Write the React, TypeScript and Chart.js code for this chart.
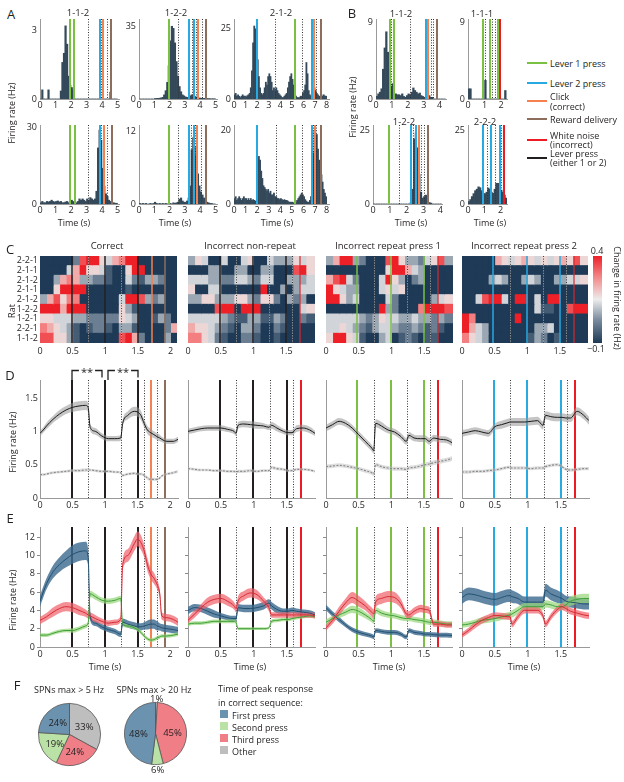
import React, { useEffect, useRef } from 'react';
import { Chart, registerables } from 'chart.js';

Chart.register(...registerables);
const FONT = "'Open Sans', 'DejaVu Sans', sans-serif";
Chart.defaults.font.family = FONT;
Chart.defaults.font.size = 9;
Chart.defaults.color = '#231f20';

// ---------------- colours ----------------
const GREEN = '#7ac143';
const BLUE = '#27aae1';
const ORANGE = '#f58151';
const BROWN = '#8d6e5c';
const RED = '#ed1c24';
const BLACK = '#231f20';
const HIST = '#34495a';
const DOT = '#333333';

// ---------------- Panel A / B histograms (0.1 s bins, Hz) ----------------
const BIN = 0.1;
const histA1 = [0,0.4,0,0,0,0.4,0,0,0,0, 0,0,0,0.35,1.6,2.0,3.2,2.4,1.0,0.6, 0.5,0.4,0,0,0,0,0,0,0,0, 0,0,0,0,0,0,0,0,0,0, 0,0,0,0,0,0.3,0,0,0,0];
const histA2 = [0,0,0,0,0,0,0,0,0,0, 0.2,0.3,0.3,0.4,0.5,0.8,2,4,8,16, 28,35,34,27,18,11,6,3.5,2,1.5, 1,0.8,0.6,1.5,2,1.5,1.2,1,0.7,0.5, 0.4,0.3,0.3,0.2,0.2,0.2,0.1,0.1,0.1,0.1];
const histA3 = [1.5,2,1,1.5,1,0.5,1,1.5,1,1, 0.8,1.2,1.5,2,4,10,20,26,25,20, 14,8,4,2,1.5,2,4,6,5,8, 9,8,6,3,4,3,4,3,2,1.5, 1,0.5,0.5,1,1.5,2,4,6,8,9, 7,5,2,1,0.5,0.5,0.5,1,1,2, 3,5,13,9,3,1.5,1,2,3,4, 3,2,1.5,1,1,1.5,1,1.5,1,1];
const histA4 = [0.5,1,0.5,0.5,1,0.8,1,1.5,1,0.8, 1,1.2,0.8,1,0.5,0.5,0.8,1,0.5,1, 1.5,1,0.5,0.5,1,2,1.5,2,1.5,1, 2,1.5,2.5,2,1.5,2,5,22,29,25, 14,7,4,3,1.5,1,0.5,0.5,0.3,0.3];
const histA5 = [0.1,0,0.1,0,0.1,0,0,0.1,0,0.1, 0.3,0.1,0,0.1,0,0.1,0,0.1,0,0.1, 0.1,0,0.2,0.1,0.2,0.3,0.8,1,0.5,0.3, 0.3,0.5,1,3,9,11,8,9.5,5,3, 2,1.5,1,0.5,0.3,0.2,0.1,0.1,0,0];
const histA6 = [1.5,2,1,1.5,2,1.5,1,1.5,2,1.5, 1.5,1,1.5,1,1.5,1,1.2,1,0.8,0.8, 6,13,12,9,7,5,4.5,4,3.5,4, 3,3.5,2.5,2.5,3,2,2,1.5,1.5,1.2, 1.5,1.2,1,1.2,1,1,0.8,0.5,0.5,0.5, 0.5,0.3,0.3,0.5,1,1.5,2,2.5,3,2.5, 2,1.2,0.8,0.5,0.5,1,2,5,14,20, 18,19,15,12,10,8,6,4,3,2];
const histB1 = [0.3,0.6,0.8,1.2,3.5,6.0,7.9,5.5,3.2,1.5, 1.8,0.6,0.6,0.5,0.5,0.4,0.6,0.3,0.2,0.4, 0.6,0.5,0.8,1.3,1.0,0.8,0.6,0.7,0.4,0.3, 0.2,0,0.3,0.4,0.2,0.2,0,0,0,0, 0,0,0,0];
const histB2 = [1.2,1.2,0,0,0,0,0,0,0,0, 2.2,0,0,0,0,0,0,0,0,0, 0,0,1.0,0];
const histB3 = [0,0,0,0,0,0,0,0,0,0, 0,0,0,0,0,0,0,0,0,0, 0,0,0.5,5,22,24,19,10,4,2, 2.5,3,2,0.5,0.3,0,0,0,0,0, 0];
const histB4 = [0.8,1.5,2.5,3.5,4.5,5,5.8,5.5,4.5,3.6, 3.5,4,5.4,5,4,3.6,5,7,7,6, 4.7,4,3,2];

// event times (s)
const evA1 = { green: [1.95, 2.22], blue: [3.85], click: [4.05], reward: [4.6], dotted: [3.1, 3.95, 4.35] };
const evA2 = { green: [1.93], blue: [3.25, 3.62], click: [3.84], reward: [4.41], dotted: [2.59, 3.47, 3.75, 4.12] };
const evA3 = { green: [5.25], blue: [1.95, 6.7], click: [6.9], reward: [7.5], dotted: [3.6, 5.95, 6.8, 7.1] };
const evA4 = { green: [1.95, 2.23], blue: [3.9], click: [4.1], reward: [4.65], dotted: [3.1, 4.0, 4.37] };
const evA5 = { green: [1.93], blue: [3.3, 3.57], click: [3.8], reward: [4.4], dotted: [2.6, 3.45, 3.68, 4.1] };
const evA6 = { green: [5.25], blue: [1.95, 6.75], click: [6.95], reward: [7.5], dotted: [3.7, 5.95, 6.85, 7.15] };
const evB1 = { green: [0.85, 1.12], blue: [3.12], click: [3.27], reward: [3.83], dotted: [1.0, 2.15, 3.48, 3.62] };
const evB2 = { green: [0.89, 1.33, 1.78], noise: [1.94], dotted: [1.07, 1.5, 1.68] };
const evB3 = { green: [0.95], blue: [2.26, 2.56], click: [2.72], reward: [3.24], dotted: [1.6, 2.42, 2.9, 3.05] };
const evB4 = { blue: [0.93, 1.44, 1.99], noise: [2.2], dotted: [1.17, 1.69, 2.08] };

// sequence-aligned events for C, D, E
const evCorrect = { press: [0.49, 1.0, 1.5], click: [1.71], reward: [1.92], dotted: [0.74, 1.25, 1.61, 1.81] };
const evNonRep = { press: [0.49, 0.99, 1.5], noise: [1.71], dotted: [0.74, 1.25, 1.6] };
const evRep1 = { green: [0.48, 0.99, 1.5], noise: [1.71], dotted: [0.74, 1.25, 1.6] };
const evRep2 = { blue: [0.48, 0.99, 1.5], noise: [1.71], dotted: [0.74, 1.25, 1.6] };
const evHeatCorrect = { press: [0.49, 1.0, 1.5], click: [1.71], reward: [1.92], dotted: [0.74, 1.25] };

// ---------------- Panel C heatmaps (levels 0..9 → -0.1..0.4 Hz) ----------------
const RATS = ['2-2-1', '2-1-1', '2-1-2', '2-1-1', '2-1-2', '1-2-2', '1-2-1', '2-2-1', '1-1-2'];
const HBIN = 0.1;
const heatCorrect = ['000002899546799000000','000046955410059900000','003676332210042133200','005999900000010000000','368577000000499832300','999699900000531000000','554443322222543001320','765431012210331000026','885531000000896200030'];
const heatNonRep = ['3540040045004333545','0003300330033000895','4443322443244003334','5004400000090030344','3355333553255203230','0000899099900000045','4444432113311320021','6554321033200210000','7754210022100100000'];
const heatRep1 = ['3699320008953324583','0000000005996430000','6894200049530230000','9543300045450000000','9953400004200000345','0000000093200079998','4444432354433433232','4454321344322321210','5995410034012101100'];
const heatRep2 = ['0000065456545456585','0000000000000000000','0000343003430033445','0000000000000000000','0048994099040990000','0000000000041100899','9700000090000000000','9643000000033400000','7543000000132010000'];
const HEAT_MIN = -0.1;
const HEAT_MAX = 0.4;
const HEAT_STOPS: [number, number[]][] = [[-0.1, [30, 58, 86]], [0.03, [120, 138, 156]], [0.15, [236, 236, 236]], [0.28, [243, 135, 135]], [0.4, [237, 32, 40]]];

// ---------------- Panel D / E time courses ----------------
const tCor = [0,0.05,0.1,0.2,0.3,0.4,0.5,0.6,0.7,0.74,0.77,0.85,0.95,1.05,1.15,1.24,1.27,1.35,1.45,1.5,1.55,1.6,1.65,1.7,1.75,1.8,1.84,1.87,1.95,2.05,2.12];
const tInc = [0,0.1,0.2,0.3,0.4,0.5,0.6,0.7,0.73,0.76,0.85,0.95,1.05,1.15,1.23,1.27,1.35,1.45,1.52,1.58,1.65,1.75,1.85,1.93];

const dCorBlack = [0.97,1.02,1.08,1.18,1.26,1.32,1.36,1.38,1.39,1.36,1.06,1.0,0.93,0.89,0.89,0.9,1.12,1.24,1.3,1.29,1.24,1.12,1.02,0.98,0.95,0.92,0.9,0.88,0.85,0.85,0.88];
const dCorBlackSem = [0.04,0.04,0.05,0.05,0.06,0.06,0.07,0.07,0.07,0.07,0.05,0.05,0.04,0.04,0.04,0.04,0.05,0.06,0.07,0.07,0.07,0.06,0.06,0.06,0.05,0.05,0.05,0.04,0.04,0.04,0.04];
const dCorGray = [0.35,0.35,0.36,0.38,0.39,0.4,0.41,0.41,0.42,0.42,0.42,0.41,0.4,0.4,0.39,0.38,0.34,0.36,0.37,0.36,0.36,0.34,0.3,0.28,0.28,0.28,0.3,0.33,0.36,0.38,0.4];
const dCorGraySem = [0.02,0.02,0.02,0.02,0.02,0.02,0.025,0.025,0.025,0.025,0.02,0.02,0.02,0.02,0.02,0.02,0.02,0.02,0.02,0.02,0.02,0.02,0.025,0.025,0.025,0.02,0.02,0.02,0.02,0.02,0.02];
const dNonBlack = [1.0,1.02,1.04,1.05,1.05,1.05,1.03,1.0,0.97,1.09,1.11,1.1,1.09,1.08,1.06,1.09,1.05,1.0,0.98,0.98,1.04,1.05,1.02,0.97];
const dNonBlackSem = [0.04,0.04,0.04,0.04,0.04,0.04,0.04,0.04,0.04,0.05,0.05,0.05,0.05,0.04,0.04,0.05,0.05,0.04,0.04,0.04,0.05,0.05,0.05,0.04];
const dNonGray = [0.44,0.43,0.42,0.42,0.41,0.41,0.4,0.4,0.39,0.4,0.4,0.41,0.4,0.41,0.41,0.46,0.44,0.43,0.41,0.41,0.43,0.43,0.42,0.4];
const dNonGraySem = [0.02,0.02,0.02,0.02,0.02,0.02,0.02,0.02,0.02,0.025,0.025,0.025,0.02,0.02,0.02,0.025,0.025,0.02,0.02,0.02,0.02,0.02,0.02,0.02];
const dRep1Black = [1.05,1.1,1.15,1.12,1.05,0.95,0.85,0.75,0.71,1.12,1.08,1.02,0.99,0.92,0.85,0.94,0.9,0.89,0.89,0.85,0.9,0.88,0.87,0.83];
const dRep1BlackSem = [0.05,0.05,0.05,0.05,0.05,0.05,0.05,0.05,0.05,0.06,0.06,0.05,0.05,0.05,0.05,0.05,0.05,0.05,0.05,0.05,0.05,0.05,0.05,0.05];
const dRep1Gray = [0.47,0.48,0.49,0.48,0.46,0.44,0.41,0.38,0.36,0.5,0.47,0.45,0.44,0.44,0.43,0.45,0.46,0.48,0.5,0.51,0.53,0.55,0.57,0.59];
const dRep1GraySem = [0.03,0.03,0.03,0.03,0.03,0.03,0.03,0.03,0.03,0.03,0.03,0.03,0.03,0.03,0.03,0.03,0.03,0.035,0.035,0.035,0.035,0.035,0.035,0.035];
const dRep2Black = [0.97,0.99,1.01,0.99,0.97,1.07,1.1,1.13,1.14,1.14,1.14,1.14,1.15,1.16,1.09,1.24,1.22,1.21,1.21,1.2,1.2,1.3,1.24,1.16];
const dRep2BlackSem = [0.05,0.05,0.05,0.05,0.05,0.05,0.06,0.06,0.06,0.06,0.06,0.06,0.06,0.06,0.06,0.06,0.06,0.06,0.06,0.06,0.06,0.06,0.06,0.06];
const dRep2Gray = [0.39,0.39,0.4,0.4,0.41,0.42,0.44,0.46,0.46,0.45,0.45,0.45,0.44,0.45,0.45,0.47,0.49,0.5,0.47,0.43,0.42,0.43,0.44,0.44];
const dRep2GraySem = [0.025,0.025,0.025,0.025,0.025,0.025,0.025,0.025,0.025,0.025,0.025,0.025,0.025,0.025,0.025,0.025,0.025,0.025,0.025,0.025,0.025,0.025,0.025,0.025];

const eCorBlue = [5.0,6.0,6.9,8.2,9.0,9.6,10.1,10.4,10.5,9.8,3.3,2.6,2.2,1.9,1.7,1.4,2.7,2.5,2.3,2.2,2.2,2.3,2.4,2.5,2.5,2.3,2.2,2.1,2.0,1.9,1.8];
const eCorBlueSem = [0.6,0.6,0.6,0.7,0.8,0.9,1.0,1.0,1.0,0.9,0.4,0.3,0.3,0.3,0.3,0.3,0.4,0.4,0.4,0.4,0.4,0.4,0.5,0.5,0.5,0.5,0.4,0.4,0.4,0.4,0.4];
const eCorRed = [2.9,3.1,3.3,3.8,4.2,4.4,4.3,4.0,3.7,3.5,3.4,3.1,2.8,2.6,2.7,3.0,9.0,10.0,11.3,11.8,11.4,10.5,9.0,8.0,7.5,6.8,5.8,3.4,3.2,3.0,2.7];
const eCorRedSem = [0.4,0.4,0.4,0.5,0.5,0.5,0.5,0.5,0.4,0.4,0.4,0.4,0.3,0.3,0.3,0.3,0.6,0.7,0.8,0.8,0.8,0.7,0.7,0.6,0.6,0.5,0.5,0.4,0.4,0.4,0.4];
const eCorGreen = [1.3,1.3,1.3,1.5,1.7,1.8,1.8,2.0,2.3,2.6,5.8,5.5,5.1,5.0,5.1,5.3,2.5,2.3,2.1,1.9,1.6,1.2,0.9,0.75,0.8,1.0,1.1,1.2,1.2,1.3,1.4];
const eCorGreenSem = [0.2,0.2,0.2,0.2,0.2,0.2,0.25,0.25,0.25,0.25,0.35,0.35,0.3,0.3,0.3,0.3,0.2,0.2,0.2,0.2,0.2,0.2,0.2,0.2,0.2,0.2,0.2,0.2,0.2,0.2,0.2];
const eNonRed = [2.9,3.6,4.3,4.9,5.2,5.3,5.0,4.5,4.2,5.0,5.6,5.9,5.7,5.0,4.3,3.5,3.5,3.5,3.5,3.5,3.5,3.5,3.5,3.4];
const eNonRedSem = [0.3,0.4,0.4,0.5,0.5,0.5,0.5,0.4,0.4,0.5,0.5,0.5,0.5,0.4,0.4,0.3,0.3,0.3,0.3,0.3,0.3,0.3,0.3,0.3];
const eNonBlue = [4.0,4.3,4.2,3.9,3.6,3.4,3.2,3.1,3.1,4.3,4.2,4.2,4.3,4.5,4.8,4.5,4.1,3.9,3.9,4.0,3.9,3.8,3.7,3.5];
const eNonBlueSem = [0.4,0.4,0.4,0.4,0.4,0.3,0.3,0.3,0.3,0.4,0.4,0.4,0.4,0.4,0.4,0.4,0.4,0.3,0.3,0.3,0.3,0.3,0.3,0.3];
const eNonGreen = [2.5,2.6,2.6,2.7,2.8,2.8,2.8,2.8,2.7,2.0,2.0,2.0,2.0,2.0,2.1,2.8,2.9,3.0,3.0,3.1,3.2,3.3,3.4,3.3];
const eNonGreenSem = [0.2,0.2,0.2,0.2,0.2,0.2,0.2,0.2,0.2,0.15,0.15,0.15,0.15,0.15,0.15,0.2,0.2,0.2,0.2,0.2,0.2,0.2,0.2,0.2];
const eRep1Red = [2.1,2.9,3.9,4.8,5.4,5.0,4.5,3.8,3.6,4.9,5.3,5.5,5.4,4.7,3.6,3.5,3.9,4.2,4.1,4.0,2.5,2.5,2.4,2.4];
const eRep1RedSem = [0.3,0.4,0.5,0.5,0.6,0.6,0.5,0.5,0.5,0.6,0.6,0.6,0.6,0.5,0.4,0.4,0.4,0.4,0.4,0.4,0.3,0.3,0.3,0.3];
const eRep1Green = [2.7,3.1,3.5,3.8,4.1,3.9,3.5,3.0,2.8,4.0,3.7,3.5,3.4,3.2,3.1,3.1,3.0,2.9,2.8,2.7,2.7,2.6,2.5,2.5];
const eRep1GreenSem = [0.3,0.3,0.35,0.35,0.4,0.4,0.35,0.3,0.3,0.35,0.35,0.3,0.3,0.3,0.3,0.3,0.3,0.3,0.3,0.3,0.3,0.3,0.3,0.3];
const eRep1Blue = [4.3,3.6,3.0,2.4,1.9,1.6,1.4,1.2,1.1,1.8,1.7,1.6,1.6,1.4,1.1,1.8,1.6,1.5,1.4,1.4,1.35,1.3,1.3,1.25];
const eRep1BlueSem = [0.3,0.3,0.3,0.25,0.25,0.25,0.25,0.25,0.25,0.25,0.25,0.25,0.25,0.25,0.25,0.25,0.25,0.25,0.25,0.25,0.25,0.25,0.25,0.25];
const eRep2Blue = [5.4,5.8,5.7,5.5,5.3,5.2,5.4,5.6,5.6,5.5,5.3,4.9,4.9,4.9,4.9,6.2,5.8,5.5,5.3,5.0,4.9,4.8,4.7,4.7];
const eRep2BlueSem = [0.7,0.7,0.7,0.7,0.7,0.7,0.7,0.7,0.7,0.7,0.6,0.6,0.6,0.6,0.6,0.7,0.7,0.7,0.6,0.6,0.6,0.6,0.6,0.6];
const eRep2Green = [2.4,2.5,2.7,2.9,3.0,3.1,3.3,3.45,3.5,3.6,4.0,4.4,4.4,4.4,4.4,4.7,4.6,4.4,4.4,4.6,5.0,5.2,5.3,5.3];
const eRep2GreenSem = [0.3,0.3,0.3,0.35,0.35,0.35,0.35,0.35,0.35,0.4,0.4,0.4,0.4,0.4,0.4,0.4,0.4,0.4,0.4,0.45,0.5,0.5,0.5,0.5];
const eRep2Red = [1.3,1.8,2.4,2.9,3.2,3.45,3.4,3.3,3.3,2.5,3.3,4.0,4.0,4.0,3.4,2.5,3.3,4.1,4.4,4.2,3.9,3.7,3.5,3.4];
const eRep2RedSem = [0.3,0.3,0.35,0.35,0.35,0.35,0.35,0.35,0.35,0.35,0.35,0.35,0.35,0.35,0.35,0.35,0.35,0.35,0.35,0.35,0.35,0.35,0.35,0.35];

// ---------------- Panel F ----------------
const PIE_CATS = ['First press', 'Second press', 'Third press', 'Other'];
const PIE_COLORS = ['#6b93b0', '#bbe2a6', '#ef7e87', '#bebebe'];
const pie5Hz = [24, 19, 24, 33];
const pie20Hz = [48, 6, 45, 1];

// ---------------- helpers ----------------
type Line = { x: number; c: string; w: number; dash?: number[]; alt?: boolean };

function eventLines(ev: any, w = 2, heat = false): Line[] {
  const out: Line[] = [];
  (ev.dotted || []).forEach((x: number) => out.push({ x, c: heat ? 'rgba(20,20,20,0.8)' : DOT, w: 1, dash: [1, 1.6], alt: heat }));
  const add = (arr: number[] | undefined, c: string) => (arr || []).forEach((x) => out.push({ x, c, w }));
  add(ev.press, BLACK);
  add(ev.green, GREEN);
  add(ev.blue, BLUE);
  add(ev.click, ORANGE);
  add(ev.reward, BROWN);
  add(ev.noise, heat ? 'rgba(215,40,45,0.8)' : RED);
  return out;
}

function vlines(lines: Line[], front: boolean) {
  const draw = (chart: any) => {
    const { ctx, chartArea: a } = chart;
    const xs = chart.scales.x;
    ctx.save();
    for (const l of lines) {
      let px = xs.getPixelForValue(l.x);
      px = l.w % 2 === 1 ? Math.round(px - 0.5) + 0.5 : Math.round(px);
      if (l.alt) {
        ctx.setLineDash([]);
        ctx.strokeStyle = 'rgba(235,235,235,0.45)';
        ctx.lineWidth = 1;
        ctx.beginPath(); ctx.moveTo(px, a.top); ctx.lineTo(px, a.bottom); ctx.stroke();
      }
      ctx.setLineDash(l.dash || []);
      ctx.strokeStyle = l.c;
      ctx.lineWidth = l.w;
      ctx.beginPath(); ctx.moveTo(px, a.top); ctx.lineTo(px, a.bottom); ctx.stroke();
    }
    ctx.restore();
  };
  return front ? { id: 'vlinesFront', afterDatasetsDraw: draw } : { id: 'vlinesBack', beforeDatasetsDraw: draw };
}

function brackets(pairs: number[][], label: string) {
  return {
    id: 'brackets',
    afterDraw(chart: any) {
      const { ctx, chartArea: a } = chart;
      const xs = chart.scales.x;
      ctx.save();
      ctx.strokeStyle = BLACK; ctx.fillStyle = BLACK; ctx.lineWidth = 1.3;
      ctx.font = `11px ${FONT}`; ctx.textAlign = 'center'; ctx.textBaseline = 'middle';
      const y = a.top - 9.5;
      const hw = ctx.measureText(label).width / 2 + 2;
      for (const [x0, x1] of pairs) {
        const p0 = Math.round(xs.getPixelForValue(x0)), p1 = Math.round(xs.getPixelForValue(x1));
        const m = (p0 + p1) / 2;
        ctx.beginPath();
        ctx.moveTo(p0, a.top); ctx.lineTo(p0, y); ctx.lineTo(m - hw, y);
        ctx.moveTo(m + hw, y); ctx.lineTo(p1, y); ctx.lineTo(p1, y + 7);
        ctx.stroke();
        ctx.fillText(label, m, y + 2.5);
      }
      ctx.restore();
    },
  };
}

const pieLabels = {
  id: 'pieLabels',
  afterDatasetsDraw(chart: any) {
    const { ctx } = chart;
    const meta = chart.getDatasetMeta(0);
    const vals = chart.data.datasets[0].data;
    ctx.save();
    ctx.fillStyle = BLACK; ctx.font = `9.5px ${FONT}`; ctx.textAlign = 'center'; ctx.textBaseline = 'middle';
    meta.data.forEach((arc: any, i: number) => {
      const p = arc.getProps(['x', 'y', 'startAngle', 'endAngle', 'outerRadius'], true);
      const a = (p.startAngle + p.endAngle) / 2;
      const r = vals[i] < 10 ? p.outerRadius + 4.5 : p.outerRadius * 0.55;
      ctx.fillText(`${vals[i]}%`, p.x + Math.cos(a) * r, p.y + Math.sin(a) * r + 1.5);
    });
    ctx.restore();
  },
};

function heatColor(d: number) {
  const v = HEAT_MIN + (d / 9) * (HEAT_MAX - HEAT_MIN);
  for (let i = 1; i < HEAT_STOPS.length; i++) {
    const [v1, c1] = HEAT_STOPS[i];
    const [v0, c0] = HEAT_STOPS[i - 1];
    if (v <= v1 + 1e-9) {
      const f = (v - v0) / (v1 - v0);
      return `rgb(${c0.map((c, k) => Math.round(c + (c1[k] - c) * f)).join(',')})`;
    }
  }
  return 'rgb(237,32,40)';
}

type G = { x: number; y: number; w: number; h: number; yw: number; xh: number; tp: number; rp: number; noY?: boolean };
function geo(pl: number, pt: number, pw: number, ph: number, yw: number, xh: number, tp = 10, rp = 10, noY = false): G {
  const x = Math.round(pl - yw);
  const y = Math.round(pt - tp);
  return { x, y, w: Math.round(pl + pw) + rp - x, h: Math.round(pt + ph) + xh - y, yw: Math.round(pl) - x, xh, tp: Math.round(pt) - y, rp, noY };
}

function axis(o: any) {
  return {
    type: 'linear', display: true, min: o.min, max: o.max, offset: false,
    afterBuildTicks: (s: any) => { s.ticks = o.ticks.map((v: number) => ({ value: v })); },
    afterFit: (s: any) => { if (o.h) s.height = o.size; else s.width = o.size; },
    ticks: { display: !!o.labels, padding: o.pad ?? 2, autoSkip: false, maxRotation: 0, minRotation: 0, color: '#231f20', font: { family: FONT, size: 9 }, callback: (v: any) => String(v) },
    grid: { display: !!o.marks, drawOnChartArea: false, drawTicks: !!o.marks, tickLength: 3, color: '#8a8a8a', lineWidth: 1, offset: false },
    border: { display: o.border !== false, color: '#9a9a9a', width: 1 },
  };
}

function base(g: G, scales: any, extra: any = {}) {
  return {
    animation: false, responsive: false, maintainAspectRatio: false, devicePixelRatio: 1, events: [],
    layout: { padding: { top: g.tp, right: g.rp, bottom: 0, left: g.noY ? g.yw : 0 } },
    plugins: { legend: { display: false }, tooltip: { enabled: false } },
    scales,
    ...extra,
  };
}

function histChart(g: G, hist: number[], xmax: number, xticks: number[], ymax: number, yticks: number[], ev: any) {
  return () => ({
    type: 'bar',
    data: { datasets: [{ data: hist.map((v, i) => ({ x: (i + 0.5) * BIN, y: v })), backgroundColor: HIST, borderWidth: 0, barPercentage: 1, categoryPercentage: 1 }] },
    options: base(g, {
      x: axis({ min: 0, max: xmax, ticks: xticks, h: true, size: g.xh, labels: true, pad: 1 }),
      y: axis({ min: 0, max: ymax, ticks: yticks, h: false, size: g.yw, labels: true, pad: 3 }),
    }),
    plugins: [vlines(eventLines(ev, 2), true)],
  });
}

function heatChart(g: G, rows: string[], xmax: number, xticks: number[], ev: any, showY: boolean) {
  return () => {
    const levels = rows.map((r) => r.split('').map(Number));
    const nb = levels[0].length;
    const datasets = [];
    for (let j = 0; j < nb; j++) {
      const t0 = j * HBIN;
      const t1 = j === nb - 1 ? xmax : (j + 1) * HBIN;
      const cols = levels.map((r) => heatColor(r[j]));
      datasets.push({ data: levels.map(() => [t0, t1]), backgroundColor: cols, borderWidth: 0, barPercentage: 1, categoryPercentage: 1, grouped: false, inflateAmount: 0.5 });
    }
    return {
      type: 'bar',
      data: { labels: RATS, datasets },
      options: base(g, {
        x: axis({ min: 0, max: xmax, ticks: xticks, h: true, size: g.xh, labels: true, pad: 3, border: false }),
        y: showY
          ? { type: 'category', offset: true, afterFit: (s: any) => { s.width = g.yw; }, ticks: { padding: 2, autoSkip: false, font: { family: FONT, size: 9 }, color: '#231f20' }, grid: { display: false, drawTicks: false, tickLength: 0 }, border: { display: false } }
          : { type: 'category', display: false, offset: true },
      }, { indexAxis: 'y' }),
      plugins: [vlines(eventLines(ev, 1.5, true), true)],
    };
  };
}

function band(t: number[], mean: number[], sem: number[], line: string, fill: string, order: number, dash: number[] = [], lw = 1) {
  const up = mean.map((m, i) => ({ x: t[i], y: m + sem[i] }));
  const lo = mean.map((m, i) => ({ x: t[i], y: m - sem[i] }));
  const mid = mean.map((m, i) => ({ x: t[i], y: m }));
  const common = { pointRadius: 0, cubicInterpolationMode: 'monotone' };
  return [
    { ...common, data: up, borderColor: 'rgba(0,0,0,0)', borderWidth: 0, fill: false, order },
    { ...common, data: lo, borderColor: 'rgba(0,0,0,0)', borderWidth: 0, fill: '-1', backgroundColor: fill, order },
    { ...common, data: mid, borderColor: line, borderWidth: lw, borderDash: dash, fill: false, order: 0 },
  ];
}

function lineChart(g: G, datasets: any[], xmax: number, xticks: number[], ymax: number, yticks: number[], yLabels: boolean, yMarks: boolean, ev: any, extraPlugins: any[] = []) {
  return () => ({
    type: 'line',
    data: { datasets },
    options: base(g, {
      x: axis({ min: 0, max: xmax, ticks: xticks, h: true, size: g.xh, labels: true, pad: 2 }),
      y: axis({ min: 0, max: ymax, ticks: yticks, h: false, size: g.yw, labels: yLabels, marks: yMarks, pad: 2 }),
    }),
    plugins: [vlines(eventLines(ev, 2), false), ...extraPlugins],
  });
}

function pieChart(values: number[]) {
  return () => ({
    type: 'pie',
    data: {
      labels: [...PIE_CATS].reverse(),
      datasets: [{ data: [...values].reverse(), backgroundColor: [...PIE_COLORS].reverse(), borderColor: '#555', borderWidth: 0.8 }],
    },
    options: { animation: false, responsive: false, maintainAspectRatio: false, devicePixelRatio: 1, events: [], layout: { padding: 14 }, plugins: { legend: { display: false }, tooltip: { enabled: false } } },
    plugins: [pieLabels],
  });
}

// ---------------- chart list ----------------
const XT5 = [0, 1, 2, 3, 4, 5];
const XT8 = [0, 1, 2, 3, 4, 5, 6, 7, 8];
const XT4 = [0, 1, 2, 3, 4];
const XT2 = [0, 1, 2];
const XTS1 = [0, 0.5, 1, 1.5, 2];
const XTS2 = [0, 0.5, 1, 1.5];
const YT_D = [0, 0.5, 1, 1.5];
const YT_E = [0, 2, 4, 6, 8, 10, 12];

const gA1 = geo(40, 19, 78.5, 80, 16, 14);
const gA2 = geo(139, 19, 77.5, 80, 16, 14);
const gA3 = geo(234, 19, 95, 80, 16, 14);
const gA4 = geo(40, 125, 78.5, 79, 16, 14);
const gA5 = geo(139, 125, 77.5, 79, 16, 14);
const gA6 = geo(234, 125, 95, 79, 16, 14);
const gB1 = geo(375.7, 19, 70.4, 80, 16, 14);
const gB2 = geo(468, 19, 38.8, 80, 16, 14);
const gB3 = geo(373.3, 125, 68.5, 79, 16, 14);
const gB4 = geo(467.7, 125, 38.9, 79, 16, 14);
const gC1 = geo(40, 255.5, 137, 87.5, 36, 14);
const gC2 = geo(188, 255.5, 127, 87.5, 8, 14, 10, 10, true);
const gC3 = geo(326, 255.5, 127, 87.5, 8, 14, 10, 10, true);
const gC4 = geo(462, 255.5, 126, 87.5, 8, 14, 10, 10, true);
const gD1 = geo(40, 380, 138, 118, 20, 14, 16);
const gD2 = geo(188, 380, 126.5, 118, 8, 14);
const gD3 = geo(325.7, 380, 126.5, 118, 8, 14);
const gD4 = geo(462, 380, 126.5, 118, 8, 14);
const gE1 = geo(40, 526.7, 138, 120, 22, 14);
const gE2 = geo(188, 526.7, 126.5, 120, 8, 14);
const gE3 = geo(325.7, 526.7, 126.5, 120, 8, 14);
const gE4 = geo(462, 526.7, 126.5, 120, 8, 14);
const gF1: G = { x: 24, y: 689, w: 91, h: 91, yw: 0, xh: 0, tp: 0, rp: 0 };
const gF2: G = { x: 110, y: 688, w: 91, h: 91, yw: 0, xh: 0, tp: 0, rp: 0 };

const GRAYBAND = 'rgba(150,150,150,0.55)';
const LGRAYBAND = 'rgba(190,190,190,0.5)';
const BLUEBAND = 'rgba(62,108,145,0.82)';
const GREENBAND = 'rgba(150,214,120,0.7)';
const REDBAND = 'rgba(240,95,105,0.7)';
const BLUELINE = '#22506f';
const GREENLINE = '#3f9e3a';
const REDLINE = '#d62a34';

const dSets = (t: number[], b: number[], bs: number[], gr: number[], gs: number[]) => [
  ...band(t, b, bs, '#1a1a1a', GRAYBAND, 1),
  ...band(t, gr, gs, '#8c8c8c', LGRAYBAND, 2, [2, 1.5], 1.2),
];
const eSets = (t: number[], bl: number[], bls: number[], gn: number[], gns: number[], rd: number[], rds: number[]) => [
  ...band(t, rd, rds, REDLINE, REDBAND, 1),
  ...band(t, gn, gns, GREENLINE, GREENBAND, 2),
  ...band(t, bl, bls, BLUELINE, BLUEBAND, 3),
];

const CHARTS: { key: string; g: G; make: () => any }[] = [
  { key: 'A1', g: gA1, make: histChart(gA1, histA1, 5.1, XT5, 3.5, [0, 3], evA1) },
  { key: 'A2', g: gA2, make: histChart(gA2, histA2, 5.1, XT5, 38.5, [0, 35], evA2) },
  { key: 'A3', g: gA3, make: histChart(gA3, histA3, 8.2, XT8, 28.5, [0, 25], evA3) },
  { key: 'A4', g: gA4, make: histChart(gA4, histA4, 5.1, XT5, 31, [0, 30], evA4) },
  { key: 'A5', g: gA5, make: histChart(gA5, histA5, 5.1, XT5, 13.1, [0, 12], evA5) },
  { key: 'A6', g: gA6, make: histChart(gA6, histA6, 8.2, XT8, 21.6, [0, 20], evA6) },
  { key: 'B1', g: gB1, make: histChart(gB1, histB1, 4.4, XT4, 9.4, [0, 9], evB1) },
  { key: 'B2', g: gB2, make: histChart(gB2, histB2, 2.35, XT2, 9.4, [0, 9], evB2) },
  { key: 'B3', g: gB3, make: histChart(gB3, histB3, 4.1, XT4, 26.7, [0, 25], evB3) },
  { key: 'B4', g: gB4, make: histChart(gB4, histB4, 2.4, XT2, 26.7, [0, 25], evB4) },
  { key: 'C1', g: gC1, make: heatChart(gC1, heatCorrect, 2.1, XTS1, evHeatCorrect, true) },
  { key: 'C2', g: gC2, make: heatChart(gC2, heatNonRep, 1.94, XTS2, evNonRep, false) },
  { key: 'C3', g: gC3, make: heatChart(gC3, heatRep1, 1.94, XTS2, evRep1, false) },
  { key: 'C4', g: gC4, make: heatChart(gC4, heatRep2, 1.93, XTS2, evRep2, false) },
  { key: 'D1', g: gD1, make: lineChart(gD1, dSets(tCor, dCorBlack, dCorBlackSem, dCorGray, dCorGraySem), 2.12, XTS1, 1.77, YT_D, true, false, evCorrect, [brackets([[0.49, 0.96], [1.04, 1.5]], '**')]) },
  { key: 'D2', g: gD2, make: lineChart(gD2, dSets(tInc, dNonBlack, dNonBlackSem, dNonGray, dNonGraySem), 1.93, XTS2, 1.77, YT_D, false, false, evNonRep) },
  { key: 'D3', g: gD3, make: lineChart(gD3, dSets(tInc, dRep1Black, dRep1BlackSem, dRep1Gray, dRep1GraySem), 1.93, XTS2, 1.77, YT_D, false, false, evRep1) },
  { key: 'D4', g: gD4, make: lineChart(gD4, dSets(tInc, dRep2Black, dRep2BlackSem, dRep2Gray, dRep2GraySem), 1.93, XTS2, 1.77, YT_D, false, false, evRep2) },
  { key: 'E1', g: gE1, make: lineChart(gE1, eSets(tCor, eCorBlue, eCorBlueSem, eCorGreen, eCorGreenSem, eCorRed, eCorRedSem), 2.12, XTS1, 13.1, YT_E, true, true, evCorrect) },
  { key: 'E2', g: gE2, make: lineChart(gE2, eSets(tInc, eNonBlue, eNonBlueSem, eNonGreen, eNonGreenSem, eNonRed, eNonRedSem), 1.93, XTS2, 13.1, YT_E, false, true, evNonRep) },
  { key: 'E3', g: gE3, make: lineChart(gE3, eSets(tInc, eRep1Blue, eRep1BlueSem, eRep1Green, eRep1GreenSem, eRep1Red, eRep1RedSem), 1.93, XTS2, 13.1, YT_E, false, true, evRep1) },
  { key: 'E4', g: gE4, make: lineChart(gE4, eSets(tInc, eRep2Blue, eRep2BlueSem, eRep2Green, eRep2GreenSem, eRep2Red, eRep2RedSem), 1.93, XTS2, 13.1, YT_E, false, true, evRep2) },
  { key: 'F1', g: gF1, make: pieChart(pie5Hz) },
  { key: 'F2', g: gF2, make: pieChart(pie20Hz) },
];

// ---------------- components ----------------
function ChartCanvas({ g, make }: { g: G; make: () => any }) {
  const ref = useRef<HTMLCanvasElement>(null);
  useEffect(() => {
    const chart = new Chart(ref.current as HTMLCanvasElement, make());
    return () => chart.destroy();
  }, []);
  return (
    <canvas ref={ref} width={g.w} height={g.h} style={{ position: 'absolute', left: g.x, top: g.y, width: g.w, height: g.h }} />
  );
}

function T({ x, y, s = 9, a = 'c', r = 0, children }: any) {
  const tx = a === 'c' ? '-50%' : a === 'r' ? '-100%' : '0%';
  return (
    <div style={{ position: 'absolute', left: x, top: y, transform: `translate(${tx},-50%) rotate(${r}deg)`, fontSize: s, lineHeight: `${s + 2}px`, whiteSpace: 'nowrap', fontFamily: FONT, color: '#231f20' }}>
      {children}
    </div>
  );
}

const LEGEND_AB = [
  { c: GREEN, y: 63, t: ['Lever 1 press'] },
  { c: BLUE, y: 82.7, t: ['Lever 2 press'] },
  { c: ORANGE, y: 101, t: ['Click', '(correct)'] },
  { c: BROWN, y: 119.3, t: ['Reward delivery'] },
  { c: RED, y: 139.7, t: ['White noise', '(incorrect)'] },
  { c: BLACK, y: 157.7, t: ['Lever press', '(either 1 or 2)'] },
];

export default function App() {
  return (
    <div style={{ position: 'absolute', left: 0, top: 0, width: 624, height: 782, background: '#fff', overflow: 'hidden', fontFamily: FONT }}>
      {CHARTS.map((c) => <ChartCanvas key={c.key} g={c.g} make={c.make} />)}

      {/* colour bar */}
      <div style={{ position: 'absolute', left: 593, top: 255.5, width: 9, height: 87.5, background: 'linear-gradient(to top, rgb(30,58,86) 0%, rgb(120,138,156) 26%, rgb(236,236,236) 50%, rgb(243,135,135) 76%, rgb(237,32,40) 100%)' }} />

      {/* legend A/B */}
      {LEGEND_AB.map((l, i) => (
        <React.Fragment key={i}>
          <div style={{ position: 'absolute', left: 527, top: l.y - 1, width: 20, height: 2.2, background: l.c }} />
          {l.t.length === 1 ? (
            <T x={550} y={l.y} a="l" s={9}>{l.t[0]}</T>
          ) : (
            <>
              <T x={550} y={l.y - 4.6} a="l" s={9}>{l.t[0]}</T>
              <T x={550} y={l.y + 4.6} a="l" s={9}>{l.t[1]}</T>
            </>
          )}
        </React.Fragment>
      ))}

      {/* panel letters */}
      <T x={11} y={14} s={13}>A</T>
      <T x={352} y={13} s={13}>B</T>
      <T x={10} y={249} s={13}>C</T>
      <T x={10} y={375} s={13}>D</T>
      <T x={10} y={518} s={13}>E</T>
      <T x={17} y={685} s={13}>F</T>

      {/* A / B titles and axis labels */}
      <T x={78} y={13} s={9.5}>1-1-2</T>
      <T x={176} y={13} s={9.5}>1-2-2</T>
      <T x={281} y={13} s={9.5}>2-1-2</T>
      <T x={401} y={14} s={9.5}>1-1-2</T>
      <T x={482} y={14} s={9.5}>1-1-1</T>
      <T x={404} y={122} s={9.5}>1-2-2</T>
      <T x={485} y={122} s={9.5}>2-2-2</T>
      <T x={11} y={113} r={-90}>Firing rate (Hz)</T>
      <T x={352} y={107} r={-90}>Firing rate (Hz)</T>
      <T x={74} y={222}>Time (s)</T>
      <T x={175} y={222}>Time (s)</T>
      <T x={277} y={222}>Time (s)</T>
      <T x={411} y={222}>Time (s)</T>
      <T x={490} y={222}>Time (s)</T>

      {/* C */}
      <T x={107} y={246} s={9.5}>Correct</T>
      <T x={250} y={246} s={9.5}>Incorrect non-repeat</T>
      <T x={388} y={246} s={9.5}>Incorrect repeat press 1</T>
      <T x={524} y={246} s={9.5}>Incorrect repeat press 2</T>
      <T x={11} y={311} r={-90}>Rat</T>
      <T x={597} y={250}>0.4</T>
      <T x={596} y={348}>−0.1</T>
      <T x={617} y={298} r={90}>Change in firing rate (Hz)</T>

      {/* D / E */}
      <T x={12} y={442} r={-90}>Firing rate (Hz)</T>
      <T x={12} y={600} r={-90}>Firing rate (Hz)</T>
      <T x={105} y={666}>Time (s)</T>
      <T x={250} y={666}>Time (s)</T>
      <T x={389} y={666}>Time (s)</T>
      <T x={524} y={666}>Time (s)</T>

      {/* F */}
      <T x={69} y={689}>SPNs max &gt; 5 Hz</T>
      <T x={154} y={689}>SPNs max &gt; 20 Hz</T>
      <T x={218} y={688} a="l">Time of peak response</T>
      <T x={218} y={702} a="l">in correct sequence:</T>
      {PIE_CATS.map((c, i) => (
        <React.Fragment key={c}>
          <div style={{ position: 'absolute', left: 220, top: 710 + i * 12, width: 8, height: 8, background: PIE_COLORS[i] }} />
          <T x={232} y={714.5 + i * 12} a="l">{c}</T>
        </React.Fragment>
      ))}
    </div>
  );
}
